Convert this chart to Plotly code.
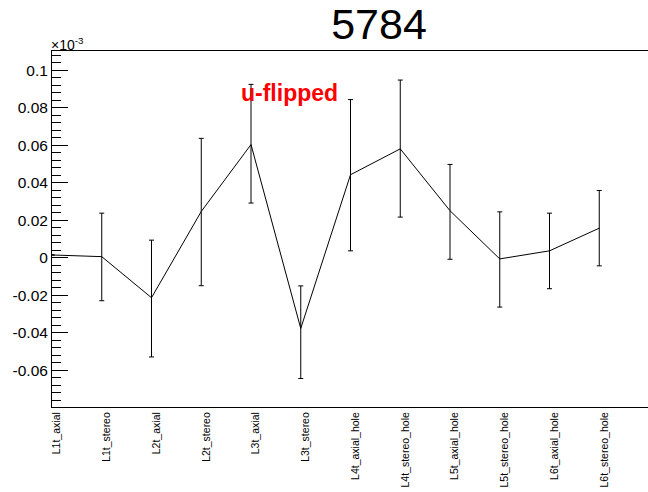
import plotly.graph_objects as go

# ---- data (values in units of 1e-3) ----
categories = ["L1t_axial", "L1t_stereo", "L2t_axial", "L2t_stereo", "L3t_axial",
              "L3t_stereo", "L4t_axial_hole", "L4t_stereo_hole", "L5t_axial_hole",
              "L5t_stereo_hole", "L6t_axial_hole", "L6t_stereo_hole"]
x_index = list(range(len(categories)))
values = [0.0014, 0.0005, -0.0214, 0.0246, 0.0603, -0.0378, 0.0442, 0.0580,
          0.0250, -0.0007, 0.0036, 0.0157]
err_up = [0.0, 0.0232, 0.0307, 0.0390, 0.0321, 0.0227, 0.0401, 0.0367,
          0.0247, 0.0251, 0.0201, 0.0201]
err_down = [0.0, 0.0235, 0.0316, 0.0396, 0.0312, 0.0267, 0.0406, 0.0364,
            0.0259, 0.0257, 0.0202, 0.0201]
y_tickvals = [-0.06, -0.04, -0.02, 0, 0.02, 0.04, 0.06, 0.08, 0.1]
y_ticktext = ["-0.06", "-0.04", "-0.02", "0", "0.02", "0.04", "0.06", "0.08", "0.1"]
title_text = "5784"
label_text = "u-flipped"

FONT = "Liberation Sans, Arial, Helvetica, sans-serif"

fig = go.Figure()
fig.add_trace(go.Scatter(
    x=x_index, y=values, mode="lines",
    line=dict(color="black", width=1),
    error_y=dict(type="data", symmetric=False, array=err_up, arrayminus=err_down,
                 color="black", thickness=1, width=2.5),
    showlegend=False, cliponaxis=False, hoverinfo="skip",
))

fig.update_layout(
    width=648, height=492,
    margin=dict(l=52, r=0, t=51, b=85, autoexpand=False),
    paper_bgcolor="white", plot_bgcolor="white",
    font=dict(family=FONT, color="black"),
    title=dict(text=title_text, x=379 / 648, y=1 - 24 / 492,
               xanchor="center", yanchor="middle",
               font=dict(size=43, family=FONT, color="black")),
    xaxis=dict(range=[0, 11.98], tickvals=x_index, ticktext=categories,
               tickangle=-90, ticks="", showgrid=False, zeroline=False,
               automargin=False, ticklabelshift=5,
               showline=True, linecolor="black", linewidth=1, mirror=True,
               tickfont=dict(size=10.5, family=FONT, color="black")),
    yaxis=dict(range=[-0.0797, 0.1102], tickvals=y_tickvals, ticktext=y_ticktext,
               ticks="inside", ticklen=16, tickcolor="black", tickwidth=1,
               minor=dict(ticks="inside", ticklen=9, dtick=0.004, tick0=0,
                          tickcolor="black", tickwidth=1, showgrid=False),
               showgrid=False, zeroline=False, automargin=False,
               showline=True, linecolor="black", linewidth=1,
               tickfont=dict(size=15.5, family=FONT, color="black")),
    annotations=[
        dict(text=label_text, xref="paper", yref="paper",
             x=(289.5 - 52) / 596, y=(407 - 93) / 356,
             xanchor="center", yanchor="middle", showarrow=False,
             font=dict(size=23, family=FONT, color="red", weight="bold")),
        dict(text="×10<sup>-3</sup>", xref="paper", yref="paper",
             x=0, y=1, xanchor="left", yanchor="bottom", showarrow=False,
             xshift=-3, yshift=-4,
             font=dict(size=14, family=FONT, color="black")),
    ],
)

fig.write_html("out.html",
               config={"displayModeBar": False},
               post_script="document.body.style.margin='0';document.body.style.padding='0';")
